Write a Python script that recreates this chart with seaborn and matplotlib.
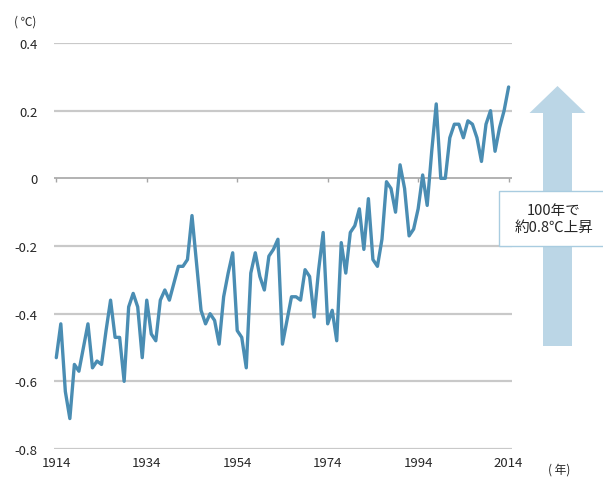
import matplotlib
matplotlib.use("Agg")
import matplotlib.pyplot as plt
from matplotlib.patches import FancyArrow, Rectangle
import pandas as pd
import seaborn as sns

# Annual global mean temperature anomaly (deg C), 1914-2014
years = list(range(1914, 2015))
anomaly = [
    -0.53, -0.43, -0.63, -0.71, -0.55, -0.57, -0.50, -0.43, -0.56, -0.54,  # 1914-1923
    -0.55, -0.45, -0.36, -0.47, -0.47, -0.60, -0.38, -0.34, -0.38, -0.53,  # 1924-1933
    -0.36, -0.46, -0.48, -0.36, -0.33, -0.36, -0.31, -0.26, -0.26, -0.24,  # 1934-1943
    -0.11, -0.25, -0.39, -0.43, -0.40, -0.42, -0.49, -0.35, -0.28, -0.22,  # 1944-1953
    -0.45, -0.47, -0.56, -0.28, -0.22, -0.29, -0.33, -0.23, -0.21, -0.18,  # 1954-1963
    -0.49, -0.42, -0.35, -0.35, -0.36, -0.27, -0.29, -0.41, -0.27, -0.16,  # 1964-1973
    -0.43, -0.39, -0.48, -0.19, -0.28, -0.16, -0.14, -0.09, -0.21, -0.06,  # 1974-1983
    -0.24, -0.26, -0.18, -0.01, -0.03, -0.10, 0.04, -0.03, -0.17, -0.15,   # 1984-1993
    -0.09, 0.01, -0.08, 0.08, 0.22, 0.00, 0.00, 0.12, 0.16, 0.16,          # 1994-2003
    0.12, 0.17, 0.16, 0.12, 0.05, 0.16, 0.20, 0.08, 0.15, 0.20,            # 2004-2013
    0.27,                                                                  # 2014
]
x_ticks = [1914, 1934, 1954, 1974, 1994, 2014]
y_ticks = [-0.8, -0.6, -0.4, -0.2, 0, 0.2, 0.4]
y_labels = ["-0.8", "-0.6", "-0.4", "-0.2", "0", "0.2", "0.4"]
note_text = "100年で\n約0.8℃上昇"

LINE_COLOR = "#4a8db3"
ARROW_COLOR = "#bbd6e6"
GRID_COLOR = "#c9c9c9"

sns.set_style("white")
plt.rcParams["font.family"] = ["Noto Sans CJK JP", "DejaVu Sans"]

df = pd.DataFrame({"year": years, "anomaly": anomaly})

fig = plt.figure(figsize=(6.03, 4.81), dpi=100)
ax = fig.add_axes([0.0896, 0.0644, 0.7595, 0.8441])

for v in y_ticks:
    if v == 0:
        continue
    ax.axhline(v, color=GRID_COLOR, linewidth=1.6, zorder=0)
ax.axhline(0, color="#a6a6a6", linewidth=1.2, zorder=1)
# small category ticks hanging below the zero line
ax.vlines(x_ticks, -0.012, 0, color="#a6a6a6", linewidth=1.0, zorder=1)

sns.lineplot(data=df, x="year", y="anomaly", color=LINE_COLOR,
             linewidth=2.4, ax=ax, zorder=3)

ax.set_xlim(1913.5, 2014.75)
ax.set_ylim(-0.8, 0.4)
ax.set_xticks(x_ticks)
ax.set_xticklabels([str(y) for y in x_ticks], fontsize=9.5)
ax.set_yticks(y_ticks)
ax.set_yticklabels(y_labels, fontsize=9.5)
ax.tick_params(axis="y", length=0, pad=12)
ax.tick_params(axis="x", length=0, pad=5)
ax.set_xlabel("")
ax.set_ylabel("")
for s in ax.spines.values():
    s.set_visible(False)

# unit labels
fig.text(14 / 603, 1 - 22 / 481, "( ℃)", fontsize=8.5, va="center", ha="left")
fig.text(548 / 603, 1 - 470 / 481, "( 年)", fontsize=8.5, va="center", ha="left")

# big upward arrow (in inches)
tr = fig.dpi_scale_trans
arrow = FancyArrow(5.575, 1.34, 0, 2.60, width=0.29, head_width=0.56,
                   head_length=0.27, length_includes_head=True,
                   transform=tr, color=ARROW_COLOR, linewidth=0, zorder=1)
fig.patches.append(arrow)

# text box
box = Rectangle((4.99, 2.34), 1.08, 0.55, transform=tr, facecolor="white",
                edgecolor="#a9cce0", linewidth=1.0, zorder=2)
fig.patches.append(box)
fig.text(5.54, 2.615, note_text, transform=tr, fontsize=10.5, ha="center",
         va="center", linespacing=1.25, zorder=3)

fig.savefig("out.png", dpi=100, facecolor="white")
plt.close(fig)
